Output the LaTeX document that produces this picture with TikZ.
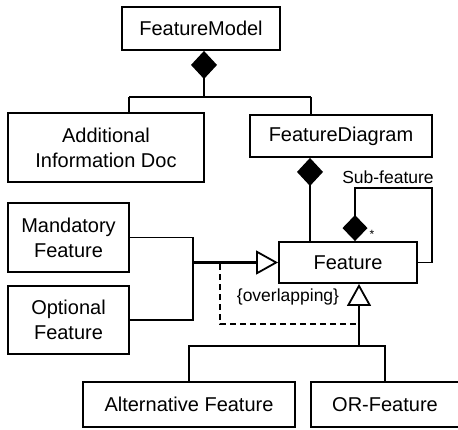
\documentclass[tikz,border=0pt]{standalone}
\usepackage{fontspec}
\setmainfont{Liberation Sans}
\usetikzlibrary{arrows.meta}
\begin{document}
\begin{tikzpicture}[x=1pt,y=-1pt,
  box/.style={draw, line width=1.9pt, inner sep=0pt, align=center,
    font=\fontsize{20}{25}\selectfont},
  lbl/.style={inner sep=0pt, font=\fontsize{17.5}{20}\selectfont},
  comptip/.tip={Diamond[length=28pt,width=26pt,line width=0pt]},
  subtip/.tip={Diamond[length=26pt,width=25pt,line width=0pt]},
  gentip/.tip={Triangle[open,length=22pt,width=24pt,line width=1.8pt]},
  link/.style={line width=1.7pt},
  comp/.style={link, comptip-},
  subcomp/.style={line width=1.5pt, subtip-},
  gen/.style={line width=2.8pt, -gentip},
  constraint/.style={line width=1.5pt, dash pattern=on 6pt off 4pt}]
\useasboundingbox (0,0) rectangle (458,429);

% classes
\node[box, minimum width=158pt, minimum height=43pt] (fm)   at (201,28.5)  {FeatureModel};
\node[box, minimum width=196pt, minimum height=69pt] (adi)  at (106,147.5) {Additional\\Information Doc};
\node[box, minimum width=182pt, minimum height=42pt] (fd)   at (341,136)   {FeatureDiagram};
\node[box, minimum width=121pt, minimum height=69pt] (mand) at (68.5,237.5) {Mandatory\\Feature};
\node[box, minimum width=121pt, minimum height=68pt] (opt)  at (68.5,320)  {Optional\\Feature};
\node[box, minimum width=138pt, minimum height=41pt] (feat) at (348,262.5) {Feature};
\node[box, minimum width=212pt, minimum height=45pt] (alt)  at (189,404.5) {Alternative Feature};
\node[box, minimum width=148pt, minimum height=45pt] (orf)  at (385,404.5) {OR-Feature};

% junction points
\coordinate (j1) at (204,97);
\coordinate (a1) at (129,97);
\coordinate (b1) at (311,97);
\coordinate (c1) at (310,0);
\coordinate (s1) at (355,188);
\coordinate (s2) at (432,188);
\coordinate (g1) at (193,0);
\coordinate (g2) at (359,346);
\coordinate (d1) at (220,264);
\coordinate (d2) at (220,324);
\coordinate (d3) at (358,324);

% FeatureModel composition
\draw[comp] (fm.south -| j1) -- (j1);
\draw[link] (a1) -- (b1);
\draw[link] (a1) -- (adi.north -| a1);
\draw[link] (b1) -- (fd.north -| b1);

% FeatureDiagram composition
\draw[comp] (fd.south -| c1) -- (feat.north -| c1);

% recursive sub-feature composition
\draw[subcomp] (feat.north -| s1) -- (s1) -- (s2) |- (feat.east);
\node[lbl] (sublbl) at (388,177) {Sub-feature};
\node[inner sep=0pt, font=\fontsize{12}{12}\selectfont] (mult) at (372,234) {*};

% Mandatory / Optional generalization
\draw[link] (mand.east) -| (g1 |- opt.east) -- (opt.east);
\draw[gen] (feat.west -| g1) -- (feat.west);

% Alternative / OR generalization
\draw[gen] (g2) -- (feat.south -| g2);
\draw[link] (alt.north) |- (g2) -| (orf.north);

% overlapping constraint
\draw[constraint] (d1) -- (d2) -- (d3);
\node[lbl] (ovl) at (288,297) {\{overlapping\}};
\end{tikzpicture}
\end{document}
